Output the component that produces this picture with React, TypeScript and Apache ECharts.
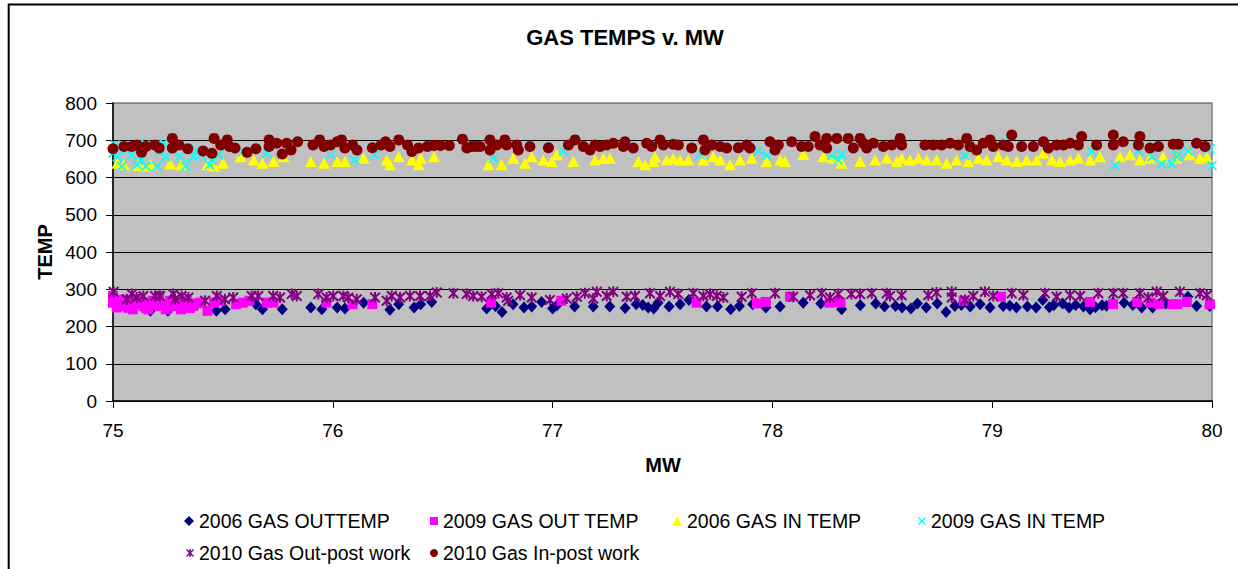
import React, { useEffect, useRef } from "react";
import * as echarts from "echarts";

const TITLE = "GAS TEMPS v. MW";
const X_NAME = "MW";
const Y_NAME = "TEMP";
const X_MIN = 75;
const X_MAX = 80;
const Y_MIN = 0;
const Y_MAX = 800;

const SERIES_NAMES = [
  "2006 GAS OUTTEMP",
  "2009 GAS OUT TEMP",
  "2006 GAS IN TEMP",
  "2009 GAS IN TEMP",
  "2010 Gas Out-post work",
  "2010 Gas In-post work",
];

const gasOut2006: number[][] = [
  [75.17, 242], [75.25, 242], [75.47, 242], [75.51, 246], [75.65, 260], [75.68, 246], [75.77, 246], [75.9, 251],
  [75.95, 246], [76.02, 251], [76.055, 248], [76.14, 264], [76.26, 245], [76.3, 260], [76.37, 251], [76.4, 260],
  [76.45, 266], [76.7, 248], [76.74, 255], [76.77, 239], [76.82, 260], [76.87, 251], [76.905, 254], [76.95, 266],
  [77.0, 248], [77.02, 257], [77.1, 254], [77.185, 254], [77.26, 254], [77.33, 250], [77.38, 260], [77.41, 258],
  [77.435, 251], [77.46, 248], [77.48, 264], [77.53, 254], [77.58, 260], [77.62, 271], [77.7, 254], [77.75, 254],
  [77.81, 246], [77.85, 255], [77.91, 260], [77.97, 251], [78.035, 254], [78.14, 264], [78.22, 262], [78.315, 246],
  [78.4, 257], [78.47, 262], [78.51, 254], [78.56, 255], [78.59, 251], [78.63, 248], [78.66, 262], [78.7, 251],
  [78.75, 262], [78.79, 239], [78.83, 255], [78.86, 258], [78.9, 254], [78.945, 260], [78.99, 251], [79.05, 255],
  [79.08, 256], [79.11, 251], [79.16, 254], [79.2, 251], [79.23, 271], [79.26, 252], [79.28, 257], [79.32, 262],
  [79.35, 251], [79.38, 258], [79.415, 254], [79.445, 246], [79.47, 252], [79.5, 257], [79.52, 256], [79.55, 264],
  [79.6, 264], [79.64, 258], [79.68, 251], [79.73, 251], [79.79, 262], [79.89, 280], [79.93, 255], [79.99, 255],
];

const gasOut2009: number[][] = [
  [75.0, 264], [75.0, 282], [75.017, 251], [75.02, 258], [75.03, 269], [75.05, 272], [75.055, 255], [75.07, 250],
  [75.08, 264], [75.09, 246], [75.1, 260], [75.115, 273], [75.13, 266], [75.14, 255], [75.15, 250], [75.16, 246],
  [75.18, 269], [75.19, 262], [75.21, 282], [75.21, 255], [75.23, 258], [75.24, 246], [75.25, 252], [75.26, 269],
  [75.27, 262], [75.29, 255], [75.31, 246], [75.32, 258], [75.335, 269], [75.35, 250], [75.365, 255], [75.38, 262],
  [75.4, 264], [75.43, 242], [75.46, 264], [75.49, 269], [75.56, 260], [75.59, 264], [75.62, 269], [75.7, 264],
  [75.73, 264], [75.97, 264], [76.09, 260], [76.18, 260], [76.72, 264], [77.04, 269], [77.655, 264], [77.93, 262],
  [77.97, 266], [78.08, 280], [78.26, 264], [78.3, 267], [78.31, 264], [78.87, 269], [79.04, 280], [79.445, 266],
  [79.55, 260], [79.66, 266], [79.72, 264], [79.76, 260], [79.82, 260], [79.84, 260], [79.885, 266], [79.99, 260],
];

const gasIn2006: number[][] = [
  [75.02, 638], [75.05, 634], [75.115, 632], [75.145, 630], [75.17, 634], [75.26, 636], [75.31, 634], [75.43, 634],
  [75.46, 630], [75.5, 638], [75.58, 656], [75.64, 647], [75.68, 638], [75.73, 643], [75.775, 656], [75.9, 643],
  [75.96, 638], [76.02, 643], [76.055, 643], [76.14, 652], [76.245, 647], [76.26, 634], [76.3, 656], [76.36, 647],
  [76.4, 652], [76.39, 634], [76.46, 656], [76.708, 634], [76.768, 634], [76.821, 652], [76.874, 638], [76.905, 656],
  [76.958, 647], [76.996, 643], [77.019, 661], [77.094, 643], [77.193, 647], [77.231, 652], [77.261, 652], [77.39, 643],
  [77.42, 634], [77.458, 643], [77.466, 656], [77.519, 647], [77.549, 652], [77.58, 647], [77.617, 647], [77.686, 647],
  [77.731, 656], [77.762, 647], [77.807, 634], [77.853, 647], [77.906, 652], [77.974, 643], [78.035, 647], [78.057, 643],
  [78.141, 662], [78.232, 656], [78.277, 652], [78.315, 638], [78.399, 643], [78.467, 647], [78.52, 652], [78.566, 643],
  [78.588, 652], [78.626, 647], [78.664, 652], [78.702, 647], [78.747, 647], [78.793, 638], [78.838, 647], [78.891, 643],
  [78.937, 652], [78.975, 647], [79.028, 656], [79.066, 647], [79.112, 643], [79.157, 647], [79.202, 647], [79.233, 665],
  [79.271, 647], [79.308, 643], [79.354, 647], [79.392, 652], [79.445, 647], [79.49, 656], [79.581, 656], [79.627, 661],
  [79.672, 647], [79.718, 652], [79.778, 656], [79.839, 652], [79.899, 661], [79.945, 652], [79.976, 656],
];

const gasIn2009: number[][] = [
  [75.0, 665], [75.01, 687], [75.02, 656], [75.04, 630], [75.06, 674], [75.085, 661], [75.11, 634], [75.12, 692],
  [75.13, 647], [75.15, 630], [75.18, 687], [75.2, 630], [75.21, 670], [75.23, 692], [75.24, 656], [75.27, 674],
  [75.305, 656], [75.33, 630], [75.34, 679], [75.365, 656], [75.38, 674], [75.4, 661], [75.44, 634], [75.45, 647],
  [75.48, 661], [75.59, 670], [75.7, 665], [75.99, 661], [76.1, 647], [76.19, 661], [76.73, 652], [77.049, 671],
  [77.671, 662], [77.936, 671], [77.974, 659], [78.088, 696], [78.27, 659], [78.3, 647], [78.315, 662], [78.876, 659],
  [79.05, 696], [79.453, 670], [79.559, 632], [79.665, 671], [79.726, 656], [79.771, 636], [79.817, 636], [79.839, 656],
  [79.847, 662], [79.892, 671], [79.991, 677], [80.0, 632],
];

const gasOut2010: number[][] = [
  [75.003, 293], [75.063, 273], [75.085, 287], [75.108, 278], [75.138, 282], [75.191, 282], [75.214, 282], [75.274, 287],
  [75.282, 273], [75.312, 282], [75.343, 278], [75.419, 269], [75.472, 282], [75.509, 273], [75.547, 278], [75.631, 282],
  [75.661, 282], [75.729, 282], [75.76, 278], [75.813, 287], [75.836, 282], [75.934, 287], [75.972, 278], [76.002, 282],
  [76.048, 282], [76.071, 278], [76.109, 273], [76.192, 278], [76.245, 269], [76.268, 282], [76.306, 278], [76.351, 282],
  [76.397, 282], [76.442, 282], [76.473, 291], [76.549, 289], [76.609, 287], [76.639, 282], [76.677, 280], [76.723, 287],
  [76.753, 289], [76.791, 278], [76.798, 269], [76.852, 284], [76.905, 278], [76.988, 271], [77.064, 275], [77.11, 280],
  [77.147, 289], [77.185, 275], [77.201, 293], [77.246, 282], [77.276, 293], [77.337, 280], [77.375, 282], [77.443, 289],
  [77.489, 282], [77.534, 293], [77.572, 287], [77.64, 289], [77.686, 282], [77.716, 287], [77.747, 282], [77.777, 278],
  [77.86, 280], [77.906, 289], [78.012, 289], [78.095, 280], [78.171, 284], [78.224, 289], [78.262, 278], [78.3, 287],
  [78.359, 287], [78.399, 287], [78.452, 289], [78.52, 289], [78.535, 282], [78.588, 284], [78.709, 284], [78.747, 291],
  [78.816, 293], [78.816, 278], [78.876, 271], [78.914, 282], [78.967, 293], [79.005, 282], [79.089, 289], [79.142, 284],
  [79.24, 289], [79.293, 280], [79.354, 284], [79.4, 282], [79.483, 289], [79.551, 289], [79.596, 289], [79.672, 289],
  [79.71, 278], [79.748, 293], [79.778, 282], [79.854, 293], [79.945, 289], [79.976, 284],
];

const gasIn2010: number[][] = [
  [75.0, 677], [75.05, 683], [75.085, 683], [75.11, 687], [75.13, 668], [75.15, 683], [75.19, 687], [75.21, 679],
  [75.27, 705], [75.27, 679], [75.3, 687], [75.34, 677], [75.41, 671], [75.45, 665], [75.46, 705], [75.49, 687],
  [75.52, 701], [75.53, 683], [75.555, 679], [75.61, 668], [75.65, 677], [75.71, 701], [75.71, 683], [75.745, 692],
  [75.77, 663], [75.79, 692], [75.81, 674], [75.84, 696], [75.91, 687], [75.94, 701], [75.96, 683], [75.99, 687],
  [76.02, 696], [76.04, 701], [76.055, 679], [76.09, 687], [76.11, 674], [76.18, 680], [76.22, 687], [76.24, 696],
  [76.26, 683], [76.3, 701], [76.34, 687], [76.36, 670], [76.39, 679], [76.43, 683], [76.46, 686], [76.49, 686],
  [76.53, 686], [76.59, 703], [76.61, 679], [76.65, 683], [76.632, 683], [76.67, 683], [76.715, 701], [76.715, 674],
  [76.746, 687], [76.783, 701], [76.791, 687], [76.837, 687], [76.844, 674], [76.897, 683], [76.981, 680], [77.072, 687],
  [77.102, 701], [77.14, 683], [77.17, 674], [77.193, 687], [77.216, 683], [77.246, 687], [77.276, 692], [77.329, 696],
  [77.322, 683], [77.367, 679], [77.428, 692], [77.451, 683], [77.489, 701], [77.504, 687], [77.549, 689], [77.572, 687],
  [77.633, 679], [77.686, 701], [77.693, 674], [77.724, 687], [77.762, 683], [77.792, 679], [77.845, 680], [77.883, 687],
  [77.898, 679], [77.989, 696], [78.012, 674], [78.027, 687], [78.088, 696], [78.133, 683], [78.163, 683], [78.194, 710],
  [78.217, 687], [78.247, 705], [78.247, 679], [78.293, 705], [78.345, 705], [78.368, 679], [78.399, 705], [78.414, 692],
  [78.429, 679], [78.459, 692], [78.505, 683], [78.543, 687], [78.581, 705], [78.588, 687], [78.694, 687], [78.732, 687],
  [78.77, 687], [78.808, 692], [78.846, 687], [78.884, 705], [78.899, 683], [78.929, 674], [78.96, 692], [78.99, 701],
  [79.005, 683], [79.05, 687], [79.089, 714], [79.073, 683], [79.134, 683], [79.187, 683], [79.233, 696], [79.255, 679],
  [79.293, 687], [79.324, 687], [79.354, 692], [79.392, 687], [79.407, 710], [79.475, 687], [79.551, 714], [79.551, 687],
  [79.596, 696], [79.672, 710], [79.665, 687], [79.718, 679], [79.756, 683], [79.824, 689], [79.847, 689], [79.93, 692],
  [79.968, 683],
];

const X_MARK = "path://M0,1.2 L1.2,0 L5,3.8 L8.8,0 L10,1.2 L6.2,5 L10,8.8 L8.8,10 L5,6.2 L1.2,10 L0,8.8 L3.8,5 Z";
const STAR_MARK =
  "path://M0,1.3 L1.3,0 L5,3.7 L8.7,0 L10,1.3 L6.3,5 L10,8.7 L8.7,10 L5,6.3 L1.3,10 L0,8.7 L3.7,5 Z M4.1,0 L5.9,0 L5.9,10 L4.1,10 Z";

const FONT = '"Liberation Sans", Arial, sans-serif';

export default function App() {
  const ref = useRef<HTMLDivElement>(null);

  useEffect(() => {
    if (!ref.current) return;
    const chart = echarts.init(ref.current, undefined, { renderer: "svg" });

    const styles = [
      { data: gasOut2006, color: "#000080", symbol: "diamond", size: [11, 12], legendIcon: "diamond", lw: 10, lh: 10, left: 184, top: 510 },
      { data: gasOut2009, color: "#FF00FF", symbol: "rect", size: 10, legendIcon: "rect", lw: 8, lh: 8, left: 430, top: 510 },
      { data: gasIn2006, color: "#FFFF00", symbol: "triangle", size: [12, 11], legendIcon: "triangle", lw: 10, lh: 10, left: 672, top: 510 },
      { data: gasIn2009, color: "#00FFFF", symbol: X_MARK, size: 10, legendIcon: X_MARK, lw: 8, lh: 8, left: 918, top: 510 },
      { data: gasOut2010, color: "#800080", symbol: STAR_MARK, size: 11, legendIcon: STAR_MARK, lw: 8, lh: 8, left: 186, top: 542 },
      { data: gasIn2010, color: "#800000", symbol: "circle", size: 11, legendIcon: "circle", lw: 8, lh: 8, left: 430, top: 542 },
    ];

    const gridLineColors = ["#000000", "#000000", "#000000", "#000000", "#000000", "#000000", "#000000", "#000000", "#808080"];

    chart.setOption({
      animation: false,
      grid: {
        left: 113,
        top: 103,
        right: 26,
        bottom: 168,
        show: true,
        backgroundColor: "#C0C0C0",
        borderColor: "#808080",
        borderWidth: 1.5,
        containLabel: false,
      },
      xAxis: {
        type: "value",
        min: X_MIN,
        max: X_MAX,
        interval: 1,
        axisLine: { show: true, lineStyle: { color: "#000", width: 1.5 } },
        axisTick: { show: true, length: 7, lineStyle: { color: "#000", width: 1 } },
        axisLabel: { color: "#000", fontSize: 19, fontFamily: FONT, margin: 20 },
        splitLine: { show: false },
      },
      yAxis: {
        type: "value",
        min: Y_MIN,
        max: Y_MAX,
        interval: 100,
        axisLine: { show: true, lineStyle: { color: "#000", width: 1.5 } },
        axisTick: { show: true, length: 7, lineStyle: { color: "#000", width: 1 } },
        axisLabel: { color: "#000", fontSize: 19, fontFamily: FONT, margin: 16 },
        splitLine: { show: true, lineStyle: { color: gridLineColors, width: 1 } },
      },
      legend: styles.map((s, i) => ({
        data: [{ name: SERIES_NAMES[i], icon: s.legendIcon }],
        left: s.left,
        top: s.top,
        padding: 0,
        itemWidth: s.lw,
        itemHeight: s.lh,
        selectedMode: false,
        textStyle: { color: "#000", fontSize: 19.5, fontFamily: FONT, lineHeight: 22 },
      })),
      series: styles.map((s, i) => ({
        name: SERIES_NAMES[i],
        type: "scatter",
        data: s.data,
        symbol: s.symbol,
        symbolSize: s.size,
        itemStyle: { color: s.color, opacity: 1 },
        emphasis: { disabled: true },
      })),
      graphic: [
        {
          type: "rect",
          shape: { x: 8.7, y: 4.5, width: 1400, height: 800 },
          style: { fill: "none", stroke: "#000", lineWidth: 2 },
          silent: true,
        },
        {
          type: "text",
          x: 625,
          y: 37,
          style: { text: TITLE, font: `bold 22px ${FONT}`, fill: "#000", align: "center", verticalAlign: "middle" },
        },
        {
          type: "text",
          x: 663,
          y: 465,
          style: { text: X_NAME, font: `bold 20px ${FONT}`, fill: "#000", align: "center", verticalAlign: "middle" },
        },
        {
          type: "text",
          x: 45,
          y: 252,
          rotation: Math.PI / 2,
          style: { text: Y_NAME, font: `bold 20px ${FONT}`, fill: "#000", align: "center", verticalAlign: "middle" },
        },
      ],
    });

    return () => chart.dispose();
  }, []);

  return (
    <div
      ref={ref}
      style={{ position: "absolute", left: 0, top: 0, width: 1238, height: 569, background: "#fff" }}
    />
  );
}
